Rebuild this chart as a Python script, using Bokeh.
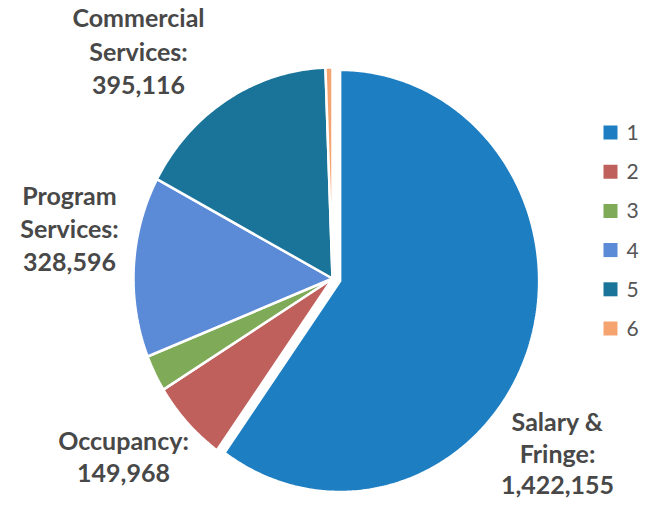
import numpy as np
from bokeh.plotting import figure
from bokeh.models import Range1d
from bokeh.embed import file_html
from bokeh.resources import INLINE
from bokeh.core.properties import value

# ---- data ----
categories = ["Salary & Fringe", "Occupancy", "Other 3", "Program Services", "Commercial Services", "Other 6"]
legend_labels = ["1", "2", "3", "4", "5", "6"]
amounts = [1422155, 149968, 66500, 328596, 395116, 13400]
colors = ["#1E7EC2", "#C0605C", "#7FAA57", "#5B8AD6", "#1A7499", "#F5A46F"]
label_lines = [
    ["Salary &", "Fringe:", "1,422,155"],
    ["Occupancy:", "149,968"],
    [],
    ["Program", "Services:", "328,596"],
    ["Commercial", "Services:", "395,116"],
    [],
]

# ---- layout (styles / positions) ----
W, H = 640, 500
CX, CY = 332, 278
RX, RY = 199, 211
EXPLODE = [8, 0, 0, 0, 0, 0]
label_pos = [(557, 420), (123, 439), None, (69, 194), (138, 16), None]
LINE_GAP = [32, 33, 0, 33.5, 34, 0]

p = figure(width=W, height=H, output_backend="svg", toolbar_location=None,
           x_range=Range1d(0, W), y_range=Range1d(H, 0),
           min_border=0)
p.axis.visible = False
p.grid.visible = False
p.outline_line_color = None
p.background_fill_color = "white"
p.border_fill_color = "white"

vals = np.array(amounts, dtype=float)
ang = np.concatenate([[0.0], np.cumsum(vals) / vals.sum() * 2 * np.pi])

xs, ys = [], []
for i in range(len(vals)):
    a0, a1 = ang[i], ang[i + 1]
    mid = (a0 + a1) / 2
    ox = EXPLODE[i] * np.sin(mid)
    oy = -EXPLODE[i] * np.cos(mid)
    t = np.linspace(a0, a1, max(4, int((a1 - a0) * 80)))
    px = np.concatenate([[CX], CX + RX * np.sin(t)]) + ox
    py = np.concatenate([[CY], CY - RY * np.cos(t)]) + oy
    xs.append(list(px))
    ys.append(list(py))

p.patches(xs, ys, fill_color=colors, line_color="white", line_width=2.5)

# data labels
tx, ty, tt = [], [], []
for i, lines in enumerate(label_lines):
    if not lines:
        continue
    x0, y0 = label_pos[i]
    for j, s in enumerate(lines):
        tx.append(x0)
        ty.append(y0 + j * LINE_GAP[i])
        tt.append(s)
p.text(tx, ty, text=tt, text_font=value("Lato"), text_font_style="bold",
       text_font_size="25px", text_color="#484848",
       text_align="center", text_baseline="middle")

# legend
LX, LY0, LDY = 610, 132, 39.2
ly = [LY0 + k * LDY for k in range(len(legend_labels))]
p.scatter([LX] * len(ly), ly, marker="square", size=14, fill_color=colors,
          line_color=None)
p.text([LX + 16] * len(ly), ly, text=legend_labels, text_font=value("Lato"),
       text_font_size="21px", text_color="#555555",
       text_align="left", text_baseline="middle")

open("out.html", "w").write(file_html(p, INLINE))
